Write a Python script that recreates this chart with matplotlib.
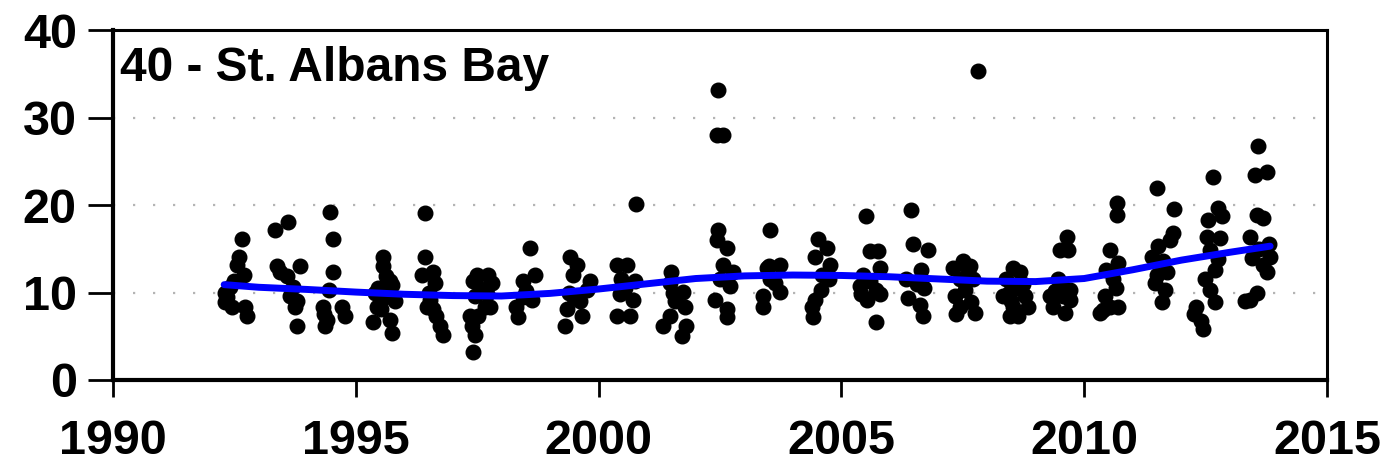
import numpy as np
import matplotlib
matplotlib.use('Agg')
import matplotlib.pyplot as plt

site_name = '40 - St. Albans Bay'

# sample dates (decimal year) and values
sample_year = [
    1992.30, 1992.30, 1992.35, 1992.40, 1992.45, 1992.55, 1992.60, 1992.65, 1992.70, 1992.72, 1992.76, 1992.50,
    1993.34, 1993.60, 1993.37, 1993.85, 1993.58, 1993.65, 1993.75, 1993.78, 1993.45, 1993.70, 1993.80,
    1994.47, 1994.53, 1994.53, 1994.32, 1994.40, 1994.71, 1994.78, 1994.37, 1994.45, 1994.35,
    1995.56, 1995.56, 1995.63, 1995.74, 1995.43, 1995.35, 1995.70, 1995.74, 1995.53, 1995.40, 1995.60, 1995.80, 1995.45, 1995.70,
    1996.42, 1996.42, 1996.36, 1996.59, 1996.63, 1996.46, 1996.53, 1996.66, 1996.73, 1996.80, 1996.59, 1996.50,
    1997.49, 1997.72, 1997.41, 1997.80, 1997.66, 1997.76, 1997.35, 1997.52, 1997.39, 1997.46, 1997.41, 1997.45, 1997.70, 1997.55,
    1998.59, 1998.69, 1998.44, 1998.62, 1998.31, 1998.34, 1998.50, 1998.45,
    1999.41, 1999.55, 1999.47, 1999.34, 1999.31, 1999.65, 1999.62, 1999.76, 1999.82, 1999.40, 1999.50,
    2000.78, 2000.37, 2000.58, 2000.47, 2000.75, 2000.44, 2000.71, 2000.37, 2000.65, 2000.55,
    2001.50, 2001.47, 2001.53, 2001.74, 2001.78, 2001.47, 2001.33, 2001.81, 2001.71, 2001.57,
    2002.46, 2002.43, 2002.64, 2002.56, 2002.77, 2002.40, 2002.64, 2002.64, 2002.46, 2002.43, 2002.57, 2002.50, 2002.70,
    2003.53, 2003.46, 2003.53, 2003.39, 2003.39, 2003.63, 2003.74, 2003.74, 2003.50,
    2004.52, 2004.70, 2004.46, 2004.77, 2004.59, 2004.46, 2004.39, 2004.42, 2004.60, 2004.75,
    2005.51, 2005.59, 2005.75, 2005.79, 2005.38, 2005.72, 2005.52, 2005.79, 2005.72, 2005.45, 2005.60, 2005.40,
    2006.44, 2006.47, 2006.78, 2006.65, 2006.34, 2006.37, 2006.62, 2006.68, 2006.55, 2006.70,
    2007.30, 2007.50, 2007.44, 2007.34, 2007.37, 2007.65, 2007.71, 2007.68, 2007.75, 2007.81, 2007.55, 2007.60, 2007.45,
    2008.53, 2008.68, 2008.40, 2008.33, 2008.78, 2008.53, 2008.84, 2008.64, 2008.47, 2008.60, 2008.45, 2008.75, 2008.50,
    2009.64, 2009.50, 2009.67, 2009.46, 2009.71, 2009.30, 2009.57, 2009.36, 2009.71, 2009.61, 2009.55, 2009.40,
    2010.67, 2010.67, 2010.53, 2010.70, 2010.46, 2010.60, 2010.43, 2010.33, 2010.53, 2010.70, 2010.65, 2010.38,
    2011.49, 2011.86, 2011.82, 2011.76, 2011.52, 2011.39, 2011.62, 2011.45, 2011.67, 2011.60, 2011.70, 2011.50,
    2012.65, 2012.76, 2012.83, 2012.55, 2012.52, 2012.79, 2012.59, 2012.69, 2012.49, 2012.59, 2012.69, 2012.31, 2012.27, 2012.41, 2012.45, 2012.75,
    2013.58, 2013.76, 2013.52, 2013.55, 2013.68, 2013.41, 2013.45, 2013.83, 2013.68, 2013.76, 2013.55, 2013.41, 2013.31, 2013.60, 2013.80,
]
sample_value = [
    10.0, 8.9, 9.5, 10.6, 8.3, 13.2, 14.1, 16.1, 12.0, 8.3, 7.3, 11.3,
    17.2, 18.1, 13.0, 13.0, 11.9, 9.6, 8.4, 6.2, 12.3, 10.6, 9.0,
    19.2, 16.1, 12.3, 8.4, 6.9, 8.3, 7.3, 6.2, 10.3, 7.6,
    14.1, 13.0, 11.9, 10.9, 8.4, 6.6, 6.9, 5.4, 8.1, 9.9, 9.5, 9.0, 10.5, 11.3,
    19.1, 14.1, 12.0, 12.3, 11.1, 8.4, 9.2, 7.3, 6.2, 5.2, 8.1, 10.0,
    12.0, 12.0, 11.3, 11.1, 8.4, 8.3, 7.3, 7.3, 6.2, 5.2, 3.2, 9.6, 9.8, 10.5,
    15.1, 12.0, 11.3, 9.2, 8.3, 7.2, 10.2, 9.5,
    14.1, 13.2, 12.0, 8.1, 6.2, 7.3, 9.0, 10.3, 11.3, 10.0, 9.4,
    20.1, 13.2, 13.2, 11.5, 11.3, 9.8, 9.2, 7.3, 7.3, 10.5,
    12.3, 11.1, 10.0, 10.1, 8.3, 7.3, 6.2, 6.2, 5.0, 9.0,
    17.2, 16.0, 15.1, 13.2, 12.4, 9.2, 8.1, 7.2, 33.1, 28.0, 28.0, 11.5, 10.8,
    17.2, 12.8, 11.5, 9.6, 8.3, 11.1, 13.2, 10.1, 13.0,
    16.1, 15.1, 14.1, 13.2, 10.3, 9.2, 8.3, 7.2, 12.0, 11.5,
    18.8, 14.7, 14.7, 12.8, 10.7, 10.3, 9.2, 9.8, 6.6, 12.0, 11.3, 9.8,
    19.4, 15.5, 14.9, 12.6, 11.5, 9.4, 8.6, 7.3, 11.0, 10.5,
    12.8, 13.6, 11.5, 9.6, 7.5, 13.0, 11.5, 8.9, 7.7, 35.3, 10.3, 12.5, 8.3,
    12.8, 12.3, 11.5, 9.6, 9.6, 8.4, 8.4, 7.3, 7.3, 10.5, 10.0, 11.0, 9.0,
    16.4, 14.9, 14.9, 11.5, 10.3, 9.6, 9.6, 8.4, 9.2, 7.7, 10.8, 10.2,
    20.2, 18.9, 14.9, 13.4, 12.6, 11.5, 9.6, 7.7, 8.4, 8.3, 10.5, 8.0,
    21.9, 19.5, 16.8, 16.0, 15.3, 14.1, 13.6, 11.1, 10.3, 8.9, 12.3, 12.0,
    23.2, 19.7, 18.7, 18.3, 16.4, 16.2, 14.9, 12.6, 11.5, 10.3, 8.9, 8.4, 7.5, 6.7, 5.8, 13.8,
    26.8, 23.8, 23.4, 18.9, 18.5, 16.4, 14.0, 14.1, 13.2, 12.4, 10.0, 9.2, 9.0, 15.0, 15.5,
]

# smooth trend line
trend_year = [1992.29, 1993, 1994, 1995, 1996, 1997, 1998, 1999, 2000, 2001, 2002,
              2003, 2004, 2005, 2006, 2007, 2008, 2009, 2010, 2011, 2012, 2013, 2013.83]
trend_value = [10.9, 10.6, 10.35, 10.05, 9.8, 9.65, 9.6, 9.9, 10.4, 11.0, 11.6,
               11.9, 12.0, 11.95, 11.8, 11.55, 11.3, 11.25, 11.6, 12.6, 13.7, 14.6, 15.3]

x_ticks = [1990, 1995, 2000, 2005, 2010, 2015]
y_ticks = [0, 10, 20, 30, 40]

plt.rcParams['font.family'] = ['Liberation Sans', 'DejaVu Sans']
plt.rcParams['font.weight'] = 'bold'

fig = plt.figure(figsize=(13.86, 4.69), dpi=100)
ax = fig.add_axes([0.0815, 0.1898, 0.8759, 0.746])

for yv in [10, 20, 30]:
    ax.axhline(yv, color='#b4b4b4', linewidth=1.6, linestyle=(0, (1, 8)), zorder=1)

ax.plot(sample_year, sample_value, 'o', color='black', markersize=10.5, zorder=3)
ax.plot(trend_year, trend_value, color='#0000ff', linewidth=5, solid_capstyle='round', zorder=4)

ax.set_xlim(1990, 2015)
ax.set_ylim(0, 40)
ax.set_xticks(x_ticks)
ax.set_yticks(y_ticks)
ax.tick_params(axis='x', direction='out', length=12, width=2, pad=16, labelsize=35)
ax.tick_params(axis='y', direction='out', length=18, width=2, pad=8, labelsize=35)
for lbl in ax.get_xticklabels() + ax.get_yticklabels():
    lbl.set_fontweight('bold')

for side in ['top', 'right']:
    ax.spines[side].set_linewidth(2.2)
for side in ['left', 'bottom']:
    ax.spines[side].set_linewidth(3)

ax.text(0.006, 0.955, site_name, transform=ax.transAxes, ha='left', va='top',
        fontsize=34.5, fontweight='bold')

plt.savefig('out.png', dpi=100)
